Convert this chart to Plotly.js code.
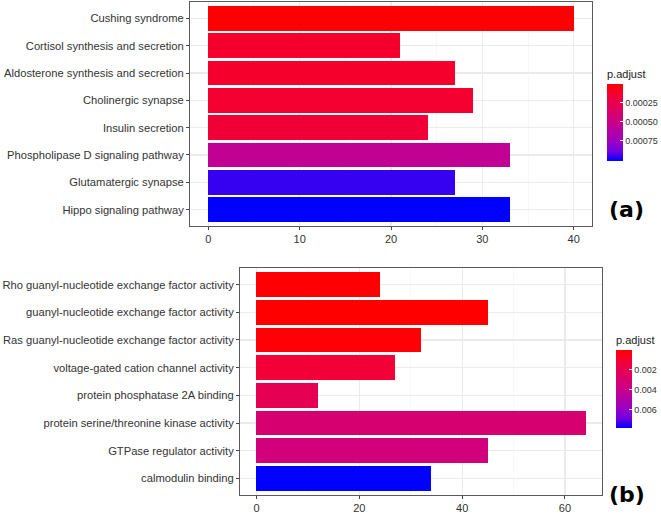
<!DOCTYPE html>
<html>
<head>
<meta charset="utf-8">
<script src="https://cdn.plot.ly/plotly-3.0.1.min.js"></script>
<style>html,body{margin:0;padding:0;background:#fff;}#chart{width:661px;height:514px;}</style>
</head>
<body>
<div id="chart"></div>
<script>
// Panel (a): KEGG pathways
const termsA = ["Cushing syndrome","Cortisol synthesis and secretion","Aldosterone synthesis and secretion","Cholinergic synapse","Insulin secretion","Phospholipase D signaling pathway","Glutamatergic synapse","Hippo signaling pathway"];
const countsA = [40, 21, 27, 29, 24, 33, 27, 33];
const padjA = [0.000002, 0.00012, 0.00012, 0.00013, 0.00016, 0.00056, 0.00096, 0.00102];
const ticksA = [0.00025, 0.00050, 0.00075];
const tickTextA = ["0.00025", "0.00050", "0.00075"];
const xTicksA = [0, 10, 20, 30, 40];

// Panel (b): GO molecular function
const termsB = ["Rho guanyl-nucleotide exchange factor activity","guanyl-nucleotide exchange factor activity","Ras guanyl-nucleotide exchange factor activity","voltage-gated cation channel activity","protein phosphatase 2A binding","protein serine/threonine kinase activity","GTPase regulator activity","calmodulin binding"];
const countsB = [24, 45, 32, 27, 12, 64, 45, 34];
const padjB = [0.00008, 0.00003, 0.00015, 0.0012, 0.0021, 0.0031, 0.0034, 0.0078];
const ticksB = [0.002, 0.004, 0.006];
const tickTextB = ["0.002", "0.004", "0.006"];
const xTicksB = [0, 20, 40, 60];

// red (low) -> blue (high), Lab-like interpolation; colour values negated so low sits on top
const scale = [[0,'#0000FF'],[0.125,'#7300E0'],[0.25,'#9A00C3'],[0.5,'#CA0089'],[0.75,'#E8004F'],[0.875,'#F40031'],[1,'#FF0000']];
const neg = a => a.map(v => -v);
const txt = '#333333';
const font = "'Liberation Sans', Arial, sans-serif";

function cbar(x, yc, len, tv, tt) {
  return {
    x: x, xanchor: 'left', y: yc, yanchor: 'middle',
    lenmode: 'pixels', len: len, thickness: 16, xpad: 0, ypad: 0,
    outlinewidth: 0, ticks: 'inside', ticklen: 3, tickcolor: '#ffffff', tickwidth: 1,
    tickvals: neg(tv), ticktext: tt, tickfont: {family: font, size: 9, color: txt},
    title: {text: 'p.adjust', side: 'top', font: {family: font, size: 11, color: '#222'}}
  };
}

const traceA = {
  type: 'bar', orientation: 'h', x: countsA, y: termsA, width: 0.9,
  xaxis: 'x', yaxis: 'y',
  marker: {color: neg(padjA), colorscale: scale, cmin: -Math.max(...padjA), cmax: -Math.min(...padjA),
    showscale: true, colorbar: cbar(607/661, 1 - 114/514, 94, ticksA, tickTextA), line: {width: 0}},
  hoverinfo: 'x+y'
};
const traceB = {
  type: 'bar', orientation: 'h', x: countsB, y: termsB, width: 0.9,
  xaxis: 'x2', yaxis: 'y2',
  marker: {color: neg(padjB), colorscale: scale, cmin: -Math.max(...padjB), cmax: -Math.min(...padjB),
    showscale: true, colorbar: cbar(616/661, 1 - 380.5/514, 95, ticksB, tickTextB), line: {width: 0}},
  hoverinfo: 'x+y'
};

function xax(domain, range, tv, minorD, anchor) {
  return {
    domain: domain, range: range, anchor: anchor, tickvals: tv, ticktext: tv.map(String),
    showgrid: true, gridcolor: '#EBEBEB', gridwidth: 1.1,
    minor: {showgrid: true, gridcolor: '#F3F3F3', gridwidth: 0.6, tickvals: minorD},
    zeroline: false, showline: true, mirror: true, linecolor: '#5A5A5A', linewidth: 1,
    ticks: 'outside', ticklen: 3, tickcolor: '#444', tickwidth: 1,
    tickfont: {family: font, size: 11, color: txt}, fixedrange: true
  };
}
function yax(domain, cats, anchor) {
  return {
    domain: domain, anchor: anchor, type: 'category', categoryarray: cats.slice().reverse(),
    range: [-0.6, cats.length - 0.4],
    showgrid: true, gridcolor: '#EBEBEB', gridwidth: 1.1, zeroline: false,
    showline: true, mirror: true, linecolor: '#5A5A5A', linewidth: 1,
    ticks: 'outside', ticklen: 3, tickcolor: '#444', tickwidth: 1,
    tickfont: {family: font, size: 11.2, color: txt}, fixedrange: true
  };
}

const layout = {
  width: 661, height: 514, margin: {l: 0, r: 0, t: 0, b: 0},
  paper_bgcolor: '#fff', plot_bgcolor: '#fff', showlegend: false, bargap: 0,
  xaxis: xax([190/661, 592/661], [-2, 42], xTicksA, [5, 15, 25, 35], 'y'),
  yaxis: yax([1 - 226/514, 1 - 2/514], termsA, 'x'),
  xaxis2: xax([240/661, 602/661], [-3.2, 67.2], xTicksB, [10, 30, 50], 'y2'),
  yaxis2: yax([1 - 495/514, 1 - 268/514], termsB, 'x2'),
  annotations: [
    {text: '<b>(a)</b>', xref: 'paper', yref: 'paper', x: 626.5/661, y: 1 - 209/514, xanchor: 'center', yanchor: 'middle', showarrow: false,
     font: {family: "'DejaVu Sans', sans-serif", size: 22, color: '#000'}},
    {text: '<b>(b)</b>', xref: 'paper', yref: 'paper', x: 626.5/661, y: 1 - 494/514, xanchor: 'center', yanchor: 'middle', showarrow: false,
     font: {family: "'DejaVu Sans', sans-serif", size: 22, color: '#000'}}
  ]
};

Plotly.newPlot('chart', [traceA, traceB], layout, {displayModeBar: false, staticPlot: true});
</script>
</body>
</html>
